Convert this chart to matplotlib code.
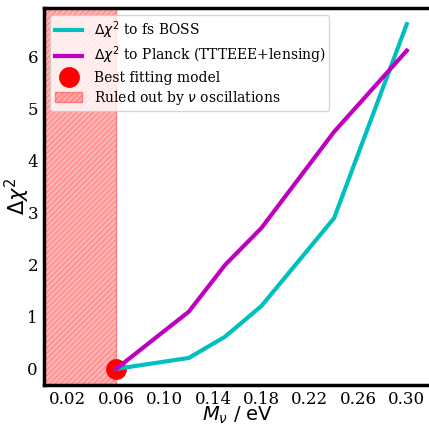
import matplotlib
matplotlib.use("Agg")
import matplotlib.pyplot as plt

masses = [0.06, 0.12, 0.15, 0.18, 0.24, 0.30]
dchi2_boss = [0.0, 0.21, 0.62, 1.21, 2.90, 6.63]
dchi2_planck = [0.0, 1.10, 2.00, 2.71, 4.56, 6.12]
best_mass = [0.06]
best_dchi2 = [0.0]
ruled_out = (0.0, 0.06)
xticks = [0.02, 0.06, 0.10, 0.14, 0.18, 0.22, 0.26, 0.30]
yticks = [0, 1, 2, 3, 4, 5, 6]

plt.rcParams['font.family'] = 'DejaVu Serif'
plt.rcParams['mathtext.fontset'] = 'dejavusans'
plt.rcParams['hatch.color'] = (0.95, 0.45, 0.45)
plt.rcParams['hatch.linewidth'] = 0.6

fig = plt.figure(figsize=(4.29, 4.24), dpi=100)
ax = fig.add_axes([43.5/429, 39/424, 387.5/429, 377/424])

span = ax.axvspan(ruled_out[0], ruled_out[1], facecolor=(1, 0, 0, 0.3),
                  edgecolor=(1, 0.3, 0.3, 0.6), hatch='//////', lw=1,
                  label=r'Ruled out by $\nu$ oscillations', zorder=1)
ax.plot(best_mass, best_dchi2, 'o', color='red', ms=14, zorder=2,
        label='Best fitting model')
ax.plot(masses, dchi2_boss, color='c', lw=3, zorder=3,
        label=r'$\Delta\chi^2$ to fs BOSS')
ax.plot(masses, dchi2_planck, color='m', lw=3, zorder=3,
        label=r'$\Delta\chi^2$ to Planck (TTTEEE+lensing)')

ax.set_xlim(0, 0.32)
ax.set_ylim(-0.31, 6.94)
ax.set_xticks(xticks)
ax.set_xticklabels([f"{v:.2f}" for v in xticks])
ax.set_yticks(yticks)
ax.tick_params(length=0, labelsize=12, pad=4)
for s in ax.spines.values():
    s.set_linewidth(2.5)

ax.set_xlabel(r'$M_\nu$ / eV', fontsize=14, family='DejaVu Sans')
ax.xaxis.set_label_coords(0.5, -0.052)
ax.set_ylabel(r'$\Delta\chi^2$', fontsize=15, family='DejaVu Sans')
ax.yaxis.set_label_coords(-0.03, 0.5)

h, l = ax.get_legend_handles_labels()
order = [2, 3, 1, 0]
ax.legend([h[i] for i in order], [l[i] for i in order], loc='upper left',
          fontsize=10, handlelength=2.0, labelspacing=0.3, borderpad=0.3,
          borderaxespad=0.5)

fig.savefig('out.png', dpi=100)
